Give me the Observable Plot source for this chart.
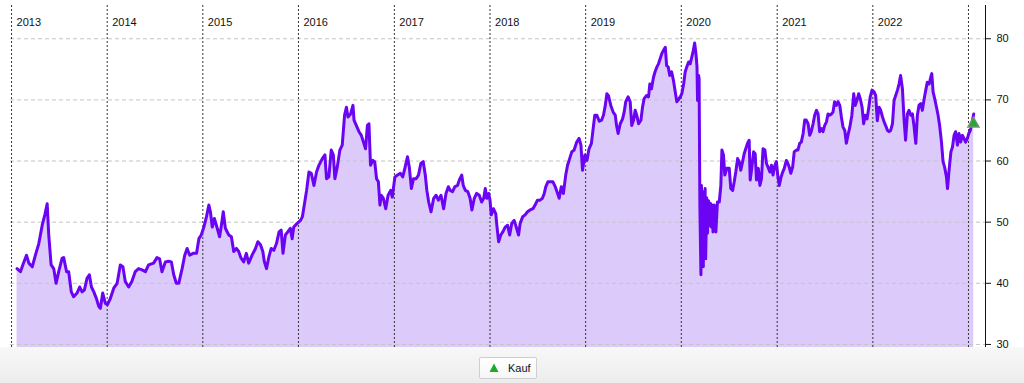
<!DOCTYPE html>
<html>
<head>
<meta charset="utf-8">
<script src="https://cdn.jsdelivr.net/npm/d3@7"></script>
<script src="https://cdn.jsdelivr.net/npm/@observablehq/plot@0.6"></script>
<style>
  html, body { margin: 0; padding: 0; background: #fff; }
  body { width: 1024px; height: 383px; overflow: hidden; position: relative; font-family: "Liberation Sans", Arial, sans-serif; }
  #chart { position: relative; z-index: 1; }
  #chart svg { overflow: visible; }
  #band { position: absolute; left: 0; top: 347px; width: 1024px; height: 36px; background: linear-gradient(#f8f8f8, #ececec); z-index: 0; }
  #legend { position: absolute; left: 479px; top: 357px; width: 56px; height: 20px; border: 1px solid #cfcfcf; background: linear-gradient(#ffffff, #f6f6f6); border-radius: 2px; font-size: 11px; color: #111; z-index: 2; }
  #legend svg { position: absolute; left: 9px; top: 5px; }
  #legend span { position: absolute; left: 28px; top: 4px; }
</style>
</head>
<body>
<div id="band"></div>
<div id="chart"></div>
<div id="legend"><svg width="10" height="10"><path d="M5,0.5 L9.5,9 L0.5,9 Z" fill="#1faa2a"/></svg><span id="legendLabel"></span></div>
<script>
const xDomain = ["2012-12-28", "2023-03-07"];
const yDomain = [29.5, 85.44];
const yTicks = [30, 40, 50, 60, 70, 80];
const yearTicks = ["2013-01-01","2014-01-01","2015-01-01","2016-01-01","2017-01-01","2018-01-01","2019-01-01","2020-01-01","2021-01-01","2022-01-01","2023-01-01"];
const yearLabels = ["2013","2014","2015","2016","2017","2018","2019","2020","2021","2022"];
const buyDates = ["2023-01-20"];
const buyValues = [66.1];
const legendText = "Kauf";

const dates = [
"2013-01-22","2013-02-04","2013-02-14","2013-02-27","2013-03-08","2013-03-21","2013-04-02","2013-04-15","2013-04-28","2013-05-08",
"2013-05-17","2013-05-23","2013-06-01","2013-06-11","2013-06-20","2013-06-30","2013-07-13","2013-07-19","2013-07-30","2013-08-07",
"2013-08-17","2013-08-26","2013-09-08","2013-09-18","2013-09-27","2013-10-06","2013-10-16","2013-10-25","2013-11-02","2013-11-11",
"2013-11-21","2013-11-30","2013-12-06","2013-12-15","2013-12-25","2014-01-02","2014-01-13","2014-01-26","2014-02-08","2014-02-20",
"2014-03-02","2014-03-11","2014-03-24","2014-04-05","2014-04-18","2014-05-01","2014-05-14","2014-05-27","2014-06-08","2014-06-27",
"2014-07-10","2014-07-20","2014-07-29","2014-08-11","2014-08-24","2014-09-03","2014-09-12","2014-09-22","2014-10-01","2014-10-14",
"2014-10-24","2014-11-02","2014-11-12","2014-11-25","2014-12-08","2014-12-17","2014-12-26","2015-01-05","2015-01-15","2015-01-24",
"2015-01-30","2015-02-06","2015-02-14","2015-02-25","2015-03-06","2015-03-13","2015-03-20","2015-03-28","2015-04-10","2015-04-20",
"2015-04-29","2015-05-09","2015-05-18","2015-05-27","2015-06-06","2015-06-16","2015-06-25","2015-07-08","2015-07-21","2015-07-30",
"2015-08-09","2015-08-18","2015-08-24","2015-09-01","2015-09-10","2015-09-19","2015-09-29","2015-10-09","2015-10-19","2015-10-27",
"2015-11-03","2015-11-12","2015-11-21","2015-12-01","2015-12-08","2015-12-14","2015-12-27","2016-01-09","2016-01-16","2016-01-25",
"2016-02-01","2016-02-10","2016-02-19","2016-02-29","2016-03-10","2016-03-19","2016-04-01","2016-04-11","2016-04-17","2016-04-26",
"2016-05-05","2016-05-13","2016-05-19","2016-05-28","2016-06-07","2016-06-16","2016-06-25","2016-07-02","2016-07-08","2016-07-18",
"2016-07-27","2016-07-31","2016-08-09","2016-08-19","2016-08-28","2016-09-05","2016-09-13","2016-09-20","2016-09-26","2016-10-02",
"2016-10-11","2016-10-18","2016-10-25","2016-11-01","2016-11-07","2016-11-12","2016-11-20","2016-11-29","2016-12-08","2016-12-18",
"2016-12-24","2017-01-03","2017-01-13","2017-01-24","2017-02-02","2017-02-10","2017-02-20","2017-02-27","2017-03-07","2017-03-15",
"2017-03-25","2017-04-03","2017-04-12","2017-04-21","2017-04-29","2017-05-05","2017-05-12","2017-05-21","2017-05-31","2017-06-09",
"2017-06-18","2017-06-28","2017-07-08","2017-07-17","2017-07-26","2017-08-02","2017-08-11","2017-08-20","2017-08-30","2017-09-06",
"2017-09-15","2017-09-21","2017-09-29","2017-10-08","2017-10-17","2017-10-24","2017-11-02","2017-11-11","2017-11-21","2017-11-30",
"2017-12-08","2017-12-14","2017-12-20","2017-12-27","2018-01-01","2018-01-06","2018-01-14","2018-01-23","2018-01-27","2018-02-03",
"2018-02-11","2018-02-19","2018-02-28","2018-03-09","2018-03-17","2018-03-25","2018-04-03","2018-04-11","2018-04-20","2018-04-26",
"2018-05-06","2018-05-15","2018-05-24","2018-06-03","2018-06-14","2018-06-22","2018-07-01","2018-07-11","2018-07-20","2018-07-27",
"2018-08-02","2018-08-10","2018-08-19","2018-08-29","2018-09-07","2018-09-16","2018-09-22","2018-09-30","2018-10-08","2018-10-17",
"2018-10-24","2018-11-01","2018-11-09","2018-11-18","2018-11-28","2018-12-07","2018-12-14","2018-12-20","2018-12-29","2019-01-06",
"2019-01-14","2019-01-23","2019-01-31","2019-02-05","2019-02-13","2019-02-22","2019-03-03","2019-03-10","2019-03-17","2019-03-23",
"2019-03-29","2019-04-07","2019-04-16","2019-04-24","2019-04-29","2019-05-05","2019-05-13","2019-05-22","2019-05-28","2019-06-03",
"2019-06-12","2019-06-20","2019-06-26","2019-07-03","2019-07-09","2019-07-15","2019-07-22","2019-07-31","2019-08-06","2019-08-12",
"2019-08-21","2019-08-29","2019-09-03","2019-09-09","2019-09-17","2019-09-23","2019-09-30","2019-10-06","2019-10-12","2019-10-19",
"2019-10-25","2019-11-01","2019-11-06","2019-11-12","2019-11-18","2019-11-25","2019-12-02","2019-12-09","2019-12-15","2019-12-21",
"2019-12-28","2020-01-03","2020-01-10","2020-01-16","2020-01-22","2020-01-29","2020-02-04","2020-02-10","2020-02-16","2020-02-21",
"2020-02-26","2020-03-01","2020-03-03","2020-03-07","2020-03-09","2020-03-12","2020-03-16","2020-03-18","2020-03-20","2020-03-23",
"2020-03-25","2020-03-27","2020-03-30","2020-04-01","2020-04-03","2020-04-07","2020-04-10","2020-04-14","2020-04-17","2020-04-21",
"2020-04-24","2020-04-28","2020-05-01","2020-05-06","2020-05-12","2020-05-18","2020-05-25","2020-05-31","2020-06-04","2020-06-10",
"2020-06-15","2020-06-23","2020-07-02","2020-07-08","2020-07-15","2020-07-21","2020-07-27","2020-08-03","2020-08-09","2020-08-15",
"2020-08-22","2020-08-28","2020-09-03","2020-09-10","2020-09-16","2020-09-20","2020-09-26","2020-10-03","2020-10-09","2020-10-14",
"2020-10-21","2020-10-27","2020-11-02","2020-11-08","2020-11-15","2020-11-21","2020-11-27","2020-12-04","2020-12-10","2020-12-16",
"2020-12-23","2020-12-29","2021-01-03","2021-01-09","2021-01-16","2021-01-22","2021-01-28","2021-02-05","2021-02-11","2021-02-16",
"2021-02-22","2021-03-01","2021-03-07","2021-03-15","2021-03-21","2021-03-28","2021-04-03","2021-04-10","2021-04-16","2021-04-22",
"2021-04-29","2021-05-05","2021-05-11","2021-05-18","2021-05-24","2021-05-31","2021-06-06","2021-06-12","2021-06-19","2021-06-25",
"2021-07-01","2021-07-08","2021-07-14","2021-07-20","2021-07-27","2021-08-02","2021-08-08","2021-08-15","2021-08-21","2021-08-28",
"2021-09-03","2021-09-09","2021-09-16","2021-09-22","2021-09-28","2021-10-05","2021-10-13","2021-10-20","2021-10-26","2021-11-01",
"2021-11-08","2021-11-14","2021-11-21","2021-11-27","2021-12-03","2021-12-10","2021-12-16","2021-12-22","2021-12-29","2022-01-06",
"2022-01-12","2022-01-18","2022-01-25","2022-01-31","2022-02-07","2022-02-13","2022-02-19","2022-02-26","2022-03-04","2022-03-10",
"2022-03-17","2022-03-23","2022-03-29","2022-04-05","2022-04-11","2022-04-17","2022-04-24","2022-04-30","2022-05-06","2022-05-13",
"2022-05-19","2022-05-26","2022-06-01","2022-06-07","2022-06-14","2022-06-20","2022-06-26","2022-07-03","2022-07-09","2022-07-16",
"2022-07-22","2022-07-28","2022-08-04","2022-08-10","2022-08-14","2022-08-19","2022-08-25","2022-09-01","2022-09-07","2022-09-13",
"2022-09-20","2022-09-26","2022-10-02","2022-10-09","2022-10-13","2022-10-19","2022-10-26","2022-11-01","2022-11-07","2022-11-13",
"2022-11-20","2022-11-26","2022-12-02","2022-12-09","2022-12-15","2022-12-21","2022-12-28","2023-01-02","2023-01-08","2023-01-15",
"2023-01-21"
];
const values = [
42.4,41.9,43.1,44.6,43.3,42.7,44.6,46.5,49.5,51.2,
53.0,47.9,43.0,42.4,40.0,41.9,44.1,44.2,41.9,41.9,
38.6,37.8,38.4,39.4,38.6,38.9,40.8,41.4,39.4,38.6,
37.5,36.2,35.9,38.4,36.7,36.5,37.5,39.2,40.0,43.0,
42.7,40.3,39.4,40.3,41.9,42.4,42.2,41.9,43.0,43.3,
44.2,44.0,41.9,43.5,43.6,43.5,41.4,40.0,40.0,42.4,
44.6,45.7,44.6,44.9,44.9,47.3,47.9,49.2,50.9,52.8,
51.7,49.2,50.6,49.0,47.6,49.5,51.7,49.0,47.9,47.6,
45.2,45.7,45.2,44.1,43.5,44.9,43.3,44.6,45.7,46.8,
46.3,45.2,43.5,42.4,44.3,45.7,45.4,46.5,48.4,48.7,
44.9,47.9,48.4,49.0,47.3,49.2,49.8,50.3,50.9,53.3,
55.2,58.2,58.0,56.0,58.2,59.3,60.4,61.0,57.1,57.4,
61.8,61.0,57.1,59.0,61.8,62.6,67.5,68.8,67.2,67.7,
69.1,66.7,65.8,64.8,64.2,63.1,62.0,65.8,66.1,59.3,
60.1,59.9,57.1,56.6,52.8,54.4,53.9,52.2,54.4,55.2,
54.1,57.4,57.7,58.0,57.4,58.8,60.7,59.0,55.5,57.1,
57.1,57.7,59.6,59.9,57.7,55.2,53.3,51.7,53.9,54.4,
53.6,54.4,52.2,54.7,55.8,55.2,55.0,55.8,56.0,56.9,
57.7,56.0,55.2,55.0,53.9,52.0,53.9,54.7,54.4,53.3,
53.9,55.5,53.9,54.7,53.6,51.2,52.2,51.4,49.5,46.8,
47.9,48.4,49.2,49.5,47.9,49.8,50.3,49.2,47.9,49.8,
50.9,51.2,51.7,52.0,52.2,52.8,53.6,53.6,53.9,54.7,
55.8,56.6,56.6,56.6,55.8,54.7,53.9,55.8,54.7,57.7,
59.3,60.4,61.5,61.8,63.1,63.7,62.6,58.5,61.0,60.1,
62.0,62.9,65.8,67.5,67.5,66.5,66.7,67.5,69.1,71.0,
70.7,69.1,68.0,67.5,65.8,64.5,66.1,66.9,68.0,69.7,
70.5,69.7,65.8,66.7,68.3,67.5,66.1,66.7,68.8,70.2,
70.7,70.5,72.6,71.8,73.7,74.6,75.4,75.9,76.7,77.6,
78.1,78.6,75.6,75.4,74.0,74.6,73.2,71.3,69.7,70.0,
70.5,71.0,72.6,74.6,75.4,76.2,75.9,77.0,78.1,79.3,
77.5,75.4,69.9,74.0,73.5,52.5,41.4,56.0,46.0,54.7,
42.7,55.0,47.0,55.5,44.0,54.0,48.2,53.5,49.5,53.1,
49.2,52.8,48.4,52.8,48.4,53.3,53.3,56.0,61.8,61.0,
57.7,58.8,58.8,55.5,55.2,56.6,58.2,60.4,59.9,58.5,
59.9,61.2,62.0,62.9,63.4,56.9,58.8,61.5,61.2,56.9,
58.8,56.0,57.1,62.0,61.8,59.6,59.0,58.2,59.3,57.7,
59.3,59.9,57.7,56.0,57.4,58.2,58.8,60.1,59.6,59.0,
58.0,59.0,61.5,61.8,61.8,62.9,63.1,64.5,66.7,66.7,
66.1,64.2,64.8,66.1,67.5,68.3,67.7,64.8,65.3,64.8,
65.8,66.4,67.7,67.5,67.7,68.0,69.7,69.1,69.7,69.1,
67.2,65.6,65.0,62.9,64.2,65.5,67.5,71.0,69.1,69.9,
71.0,70.2,68.8,66.1,67.5,66.9,68.6,70.5,71.6,71.3,
70.7,66.6,68.8,68.3,67.2,66.4,65.8,65.0,64.8,65.0,
66.1,69.9,70.7,71.6,72.6,74.0,71.8,66.9,63.4,67.7,
68.3,67.5,67.7,65.8,62.9,67.5,69.1,69.4,68.3,70.2,
71.6,72.9,72.6,73.7,74.3,71.3,70.2,68.8,67.5,65.8,
63.1,59.9,59.0,57.4,55.5,58.5,61.5,62.3,64.2,64.8,
62.6,64.5,63.1,64.2,63.7,63.1,63.7,64.5,65.0,66.4,
67.7
];

const parse = d3.utcParse("%Y-%m-%d");
const series = dates.map((d, i) => ({date: parse(d), value: values[i]}));
const buys = buyDates.map((d, i) => ({date: parse(d), value: buyValues[i]}));
const yearRules = yearTicks.map(parse);
const yearText = yearLabels.map((t, i) => ({date: parse(yearTicks[i]), label: t}));
const xDom = xDomain.map(parse);

const chart = Plot.plot({
  width: 1024,
  height: 347,
  marginLeft: 10,
  marginRight: 39,
  marginTop: 5,
  marginBottom: 0,
  style: {fontFamily: "'Liberation Sans', Arial, sans-serif", fontSize: "11px", color: "#111", background: "transparent", overflow: "visible"},
  x: {type: "utc", domain: xDom, axis: null},
  y: {domain: yDomain, axis: null},
  marks: [
    Plot.areaY(series, {x: "date", y: "value", fill: "#dccbfa", clip: true}),
    Plot.gridY(yTicks, {stroke: "#c4c4c4", strokeOpacity: 1, strokeDasharray: "4,3"}),
    Plot.ruleX(yearRules, {stroke: "#333", strokeDasharray: "2,2"}),
    Plot.text(yearText, {x: "date", text: "label", frameAnchor: "top", dy: 12.5, dx: 5, textAnchor: "start", fontSize: 11, fill: "#111"}),
    Plot.line(series, {x: "date", y: "value", stroke: "#6a04f2", strokeWidth: 3, strokeLinejoin: "round"}),
    Plot.ruleX([xDom[1]], {stroke: "#111", strokeWidth: 1}),
    Plot.axisY(yTicks, {anchor: "right", label: null, tickSize: 5, tickPadding: 6, fontSize: 11, stroke: "#111"}),
    Plot.dot(buys, {x: "date", y: "value", symbol: "triangle", r: 4.3, fill: "#22aa2a", stroke: "#8a8a8a", strokeWidth: 1.2})
  ]
});
document.getElementById("chart").appendChild(chart);
document.getElementById("legendLabel").textContent = legendText;
</script>
</body>
</html>
